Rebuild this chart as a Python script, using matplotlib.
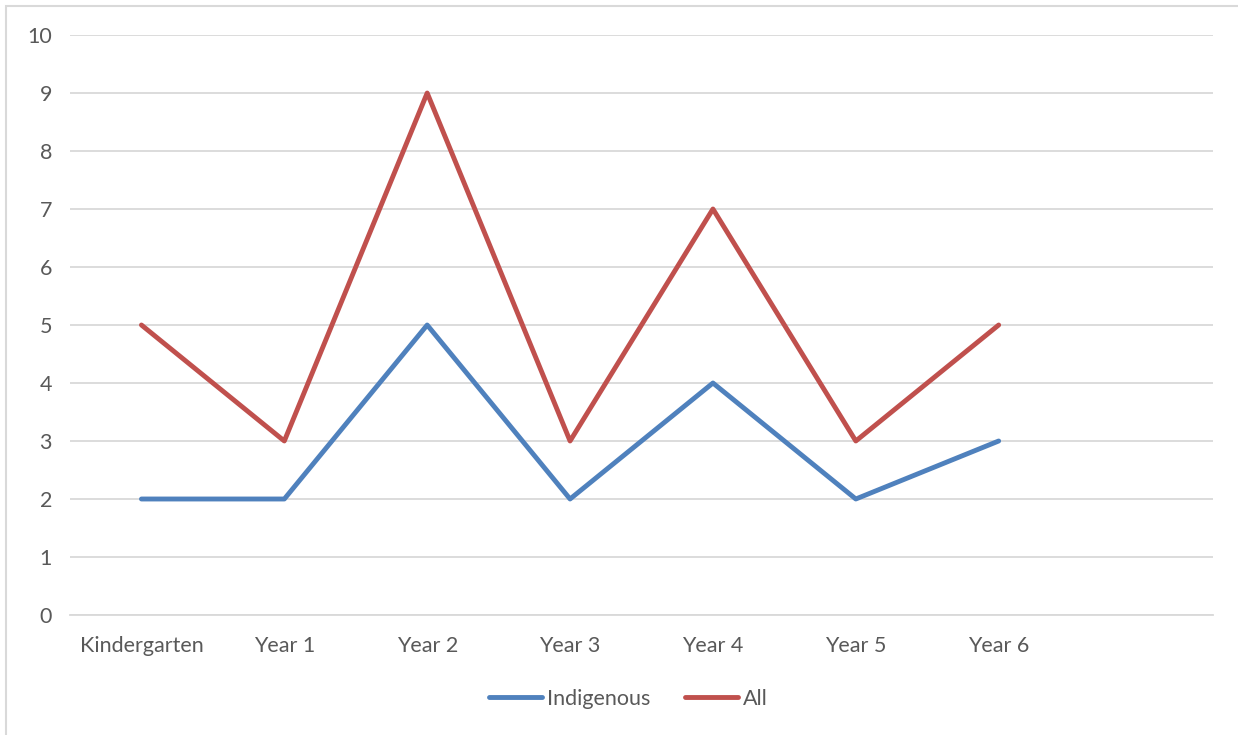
import matplotlib.pyplot as plt
from matplotlib.patches import Rectangle

categories = ["Kindergarten", "Year 1", "Year 2", "Year 3", "Year 4", "Year 5", "Year 6"]
indigenous = [2, 2, 5, 2, 4, 2, 3]
all_students = [5, 3, 9, 3, 7, 3, 5]

BLUE = "#4F81BD"
RED = "#C0504D"
TEXT = "#595959"
GRID = "#D9D9D9"

plt.rcParams["font.family"] = ["Lato", "DejaVu Sans"]

fig = plt.figure(figsize=(12.38, 7.35), dpi=100)
ax = fig.add_axes([70 / 1238, 1 - 615 / 735, (1213 - 70) / 1238, (615 - 35) / 735])

# outer chart frame (only the top and left edges fall inside the canvas)
fig.patches.append(Rectangle((6 / 1238, -0.1), 1.2, 1 - 6 / 735 + 0.1,
                             transform=fig.transFigure, fill=False,
                             edgecolor=GRID, linewidth=1.5))

xs = list(range(len(categories)))
ax.plot(xs, indigenous, color=BLUE, linewidth=3.5, solid_capstyle="round",
        solid_joinstyle="round", label="Indigenous", zorder=3)
ax.plot(xs, all_students, color=RED, linewidth=3.5, solid_capstyle="round",
        solid_joinstyle="round", label="All", zorder=3)

# one empty category slot after Year 6
ax.set_xlim(-0.5, len(categories) + 0.5)
ax.set_ylim(0, 10)
ax.set_yticks(range(0, 11))
ax.set_xticks(xs)
ax.set_xticklabels(categories)

ax.grid(axis="y", color=GRID, linewidth=1.3)
ax.set_axisbelow(True)
for side in ["top", "right", "left"]:
    ax.spines[side].set_visible(False)
ax.spines["bottom"].set_color(GRID)
ax.spines["bottom"].set_linewidth(1.3)
ax.tick_params(axis="both", length=0, labelsize=15.5, colors=TEXT)
ax.tick_params(axis="y", pad=13)
ax.tick_params(axis="x", pad=15)

leg = fig.legend(loc="center", bbox_to_anchor=(628 / 1238, 1 - 699 / 735), ncol=2,
                 frameon=False, fontsize=15.5, handlelength=2.5, handletextpad=0.2,
                 columnspacing=1.6)
for t in leg.get_texts():
    t.set_color(TEXT)

fig.savefig("out.png", dpi=100)
